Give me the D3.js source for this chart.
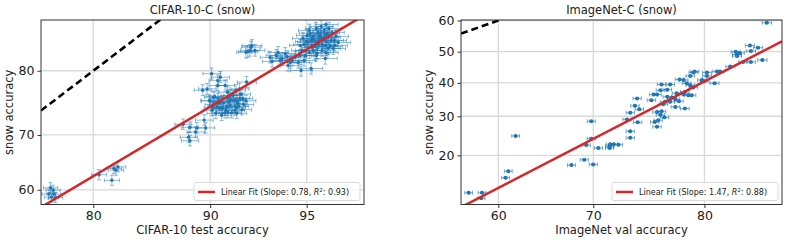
<!DOCTYPE html>
<html>
<head>
<meta charset="utf-8">
<script src="https://cdn.jsdelivr.net/npm/d3@7"></script>
<style>
  body { margin: 0; background: #fff; }
  text { font-family: "DejaVu Sans", sans-serif; fill: #222; }
</style>
</head>
<body>
<div id="vis"></div>
<script>
// ---- data (accuracies in %) ----
var cifarTicksX = [80, 90, 95];
var cifarTicksY = [60, 70, 80];
var imagenetTicksX = [60, 70, 80];
var imagenetTicksY = [20, 30, 40, 50, 60];

// [test accuracy, snow accuracy]
var cifarPoints = [
  [75.2,60.4],[75.0,59.2],[75.6,59.2],[75.8,58.5],[75.3,58.6],[75.5,59.9],
  [80.6,62.85],[81.9,61.8],[82.1,64.0],[82.5,64.3],[82.3,63.7],
  [88.1,71.8],[88.6,71.3],[89.1,71.2],[89.7,71.2],[89.6,72.5],[88.5,69.6],[88.6,69.0],[89.0,70.5],
  [90.1,79.6],[90.5,78.6],[90.65,79.1],[90.5,77.9],[89.5,77.2],[89.8,77.4],[89.95,75.6],[90.2,76.15],
  [90.95,77.9],[91.1,76.9],[91.6,77.2],[92.2,78.4],[91.8,77.4],
  [90.0,75.6],[90.25,75.0],[90.5,75.95],[90.62,74.4],[90.86,75.3],[91.0,74.1],[91.13,76.1],[91.25,74.9],
  [91.36,73.7],[91.48,75.6],[91.6,74.55],[91.7,75.2],[91.83,75.95],[91.94,74.2],[92.05,75.0],[90.12,74.1],
  [90.37,73.6],[90.74,73.3],[91.19,75.5],[91.42,76.4],[91.65,73.6],[91.88,76.6],[90.56,75.2],[91.06,74.7],
  [91.3,75.8],[91.54,74.1],[91.77,74.7],[90.19,74.55],[90.95,73.7],[92.17,75.6],
  [90.31,76.26],[90.8,74.39],[91.25,76.41],[91.6,75.64],[90.68,75.49],[92.0,75.95],[90.43,74.7],[91.13,73.74],
  [92.38,82.7],[92.49,83.3],[92.27,82.55],[92.65,82.7],[92.17,82.45],[92.44,83.1],
  [93.41,81.8],[93.7,82.05],[93.97,81.66],[94.2,81.9],[94.41,81.4],[94.33,81.13],[93.88,81.4],[94.11,82.3],
  [94.54,81.8],[94.66,81.13],[93.51,81.27],[93.79,82.43],[94.78,80.04],[95.17,80.32],[95.68,81.66],[94.74,82.05],
  [94.24,80.73],[94.9,81.4],
  [94.74,83.32],[94.86,84.17],[94.98,82.69],[95.06,83.68],[95.13,84.76],[95.21,83.07],[95.28,84.05],[95.36,85.33],
  [95.43,83.43],[95.5,84.52],[95.57,82.69],[95.64,85.11],[95.71,83.8],[95.78,84.29],[95.85,83.19],[95.91,84.88],
  [95.98,83.93],[96.04,84.41],[94.94,82.05],[95.1,82.43],[95.25,84.41],[95.39,82.3],[95.54,85.56],[95.68,83.32],
  [95.81,85.33],[95.95,82.94],[95.32,83.19],[95.47,83.93],[95.61,84.17],[95.75,84.76],[95.17,83.93],[95.02,84.52],
  [96.11,83.68],[94.82,82.69],[95.71,82.43],
  [94.9,83.43],[95.1,85.11],[95.25,82.69],[95.39,83.68],[95.54,84.29],[95.68,84.64],[95.88,83.93],[96.01,83.32],
  [95.43,84.88],[95.57,83.43],[95.21,84.17],[95.78,82.94],[94.98,83.8],[95.71,85.78],[95.36,82.05]
];

// [val accuracy, snow accuracy]
var imagenetPoints = [
  [84.6,59.3],[83.43,52.0],[84.0,51.3],[82.4,50.0],[83.5,50.2],[82.5,49.1],[82.7,49.6],[82.5,48.6],
  [84.3,47.3],[83.5,46.7],[82.95,46.7],[82.0,45.2],[81.0,43.6],[81.2,43.6],[80.2,43.3],[80.2,42.2],
  [79.2,43.6],[79.1,43.3],[78.85,42.2],[79.8,40.9],[80.0,40.5],[80.8,39.9],[78.3,40.9],[78.55,39.9],
  [77.95,41.1],[78.85,39.3],[79.1,38.6],[78.4,37.2],[78.95,36.2],[78.7,36.2],[78.3,36.4],[77.7,36.8],
  [77.15,39.5],[76.4,39.5],[76.9,37.9],[76.3,37.7],[76.9,35.7],[77.3,35.5],[77.6,35.0],[77.9,34.4],
  [77.15,34.2],[76.7,34.2],[76.55,33.5],[77.6,32.7],[78.4,32.2],[75.7,36.4],[76.0,36.4],[75.5,34.7],
  [74.2,35.2],[74.0,33.0],[74.4,32.0],[73.56,31.0],[73.25,29.1],[74.25,28.3],[76.0,31.2],[76.4,31.4],
  [76.3,30.4],[76.65,29.7],[76.1,28.9],[75.8,28.4],[76.0,27.1],[73.56,25.9],[73.56,24.2],[69.8,28.6],
  [69.8,24.0],[69.3,22.4],[70.5,21.7],[71.6,22.1],[71.66,22.6],[72.0,22.6],[72.45,22.5],[71.6,21.7],
  [67.8,17.85],[69.1,19.0],[70.0,18.0],[61.9,24.7],[61.1,16.6],[60.8,15.3],[56.7,12.6],[58.2,12.6],
  [58.1,11.7]
];

// linear fits in probit space: probit(y) = intercept + slope * probit(x)
var cifarFit = { slope: 0.78, intercept: -0.336, r2: 0.93 };
var imagenetFit = { slope: 1.47, intercept: -1.479, r2: 0.88 };

// test set sizes, used for the 95% error bars
var cifarN = { x: 10000, y: 10000 };
var imagenetN = { x: 50000, y: 250000 };

////////// probit helper //////////
function probit(p) {
  var a = [-3.969683028665376e+01, 2.209460984245205e+02, -2.759285104469687e+02, 1.383577518672690e+02, -3.066479806614716e+01, 2.506628277459239e+00];
  var b = [-5.447609879822406e+01, 1.615858368580409e+02, -1.556989798598866e+02, 6.680131188771972e+01, -1.328068155288572e+01];
  var c = [-7.784894002430293e-03, -3.223964580411365e-01, -2.400758277161838e+00, -2.549732539343734e+00, 4.374664141464968e+00, 2.938163982698783e+00];
  var d = [7.784695709041462e-03, 3.224671290700398e-01, 2.445134137142996e+00, 3.754408661907416e+00];
  var q, r;
  if (p < 0.02425) {
    q = Math.sqrt(-2 * Math.log(p));
    return (((((c[0]*q+c[1])*q+c[2])*q+c[3])*q+c[4])*q+c[5]) / ((((d[0]*q+d[1])*q+d[2])*q+d[3])*q+1);
  }
  if (p > 1 - 0.02425) {
    q = Math.sqrt(-2 * Math.log(1 - p));
    return -(((((c[0]*q+c[1])*q+c[2])*q+c[3])*q+c[4])*q+c[5]) / ((((d[0]*q+d[1])*q+d[2])*q+d[3])*q+1);
  }
  q = p - 0.5; r = q * q;
  return (((((a[0]*r+a[1])*r+a[2])*r+a[3])*r+a[4])*r+a[5])*q / (((((b[0]*r+b[1])*r+b[2])*r+b[3])*r+b[4])*r+1);
}
function pr(v) { return probit(v / 100); }
function halfCI(v, n) { var p = v / 100; return 100 * 1.96 * Math.sqrt(p * (1 - p) / n); }

var svg = d3.select("#vis").append("svg")
  .attr("width", 789).attr("height", 242);

function drawPanel(cfg) {
  var x = d3.scaleLinear().domain(cfg.xDomain.map(pr)).range([cfg.left, cfg.right]);
  var y = d3.scaleLinear().domain(cfg.yDomain.map(pr)).range([cfg.bottom, cfg.top]);
  var g = svg.append("g");

  var clipId = "clip-" + cfg.id;
  g.append("clipPath").attr("id", clipId).append("rect")
    .attr("x", cfg.left).attr("y", cfg.top)
    .attr("width", cfg.right - cfg.left).attr("height", cfg.bottom - cfg.top);

  // grid
  g.selectAll(".gx").data(cfg.ticksX).enter().append("line")
    .attr("x1", function(d) { return x(pr(d)); }).attr("x2", function(d) { return x(pr(d)); })
    .attr("y1", cfg.top).attr("y2", cfg.bottom)
    .attr("stroke", "#d9d9d9").attr("stroke-width", 1.3);
  g.selectAll(".gy").data(cfg.ticksY).enter().append("line")
    .attr("y1", function(d) { return y(pr(d)); }).attr("y2", function(d) { return y(pr(d)); })
    .attr("x1", cfg.left).attr("x2", cfg.right)
    .attr("stroke", "#d9d9d9").attr("stroke-width", 1.3);

  var plot = g.append("g").attr("clip-path", "url(#" + clipId + ")");

  // y = x reference
  var xd = x.domain();
  plot.append("line")
    .attr("x1", x(xd[0])).attr("y1", y(xd[0]))
    .attr("x2", x(xd[1])).attr("y2", y(xd[1]))
    .attr("stroke", "#000").attr("stroke-width", 2.6).attr("stroke-dasharray", "7,4");

  // error bars
  var cap = 2;
  var eb = plot.append("g").attr("stroke", "#1f77b4").attr("stroke-opacity", cfg.barOpacity).attr("stroke-width", 1);
  cfg.points.forEach(function(d) {
    var ex = halfCI(d[0], cfg.n.x), ey = halfCI(d[1], cfg.n.y);
    var x0 = x(pr(d[0] - ex)), x1 = x(pr(d[0] + ex)), cx = x(pr(d[0]));
    var y0 = y(pr(d[1] - ey)), y1 = y(pr(d[1] + ey)), cy = y(pr(d[1]));
    var path = d3.path();
    path.moveTo(x0, cy); path.lineTo(x1, cy);
    path.moveTo(x0, cy - cap); path.lineTo(x0, cy + cap);
    path.moveTo(x1, cy - cap); path.lineTo(x1, cy + cap);
    path.moveTo(cx, y0); path.lineTo(cx, y1);
    path.moveTo(cx - cap, y0); path.lineTo(cx + cap, y0);
    path.moveTo(cx - cap, y1); path.lineTo(cx + cap, y1);
    eb.append("path").attr("d", path.toString()).attr("fill", "none");
  });

  plot.selectAll(".pt").data(cfg.points).enter().append("circle")
    .attr("cx", function(d) { return x(pr(d[0])); })
    .attr("cy", function(d) { return y(pr(d[1])); })
    .attr("r", cfg.r)
    .attr("fill", "#1f77b4");

  // linear fit
  var fit = cfg.fit;
  plot.append("line")
    .attr("x1", x(xd[0])).attr("y1", y(fit.intercept + fit.slope * xd[0]))
    .attr("x2", x(xd[1])).attr("y2", y(fit.intercept + fit.slope * xd[1]))
    .attr("stroke", "#d62728").attr("stroke-width", 2.5);

  // axes
  var ax = g.append("g").attr("transform", "translate(0," + cfg.bottom + ")")
    .call(d3.axisBottom(x).tickValues(cfg.ticksX.map(pr)).tickFormat(function(d, i) { return cfg.ticksX[i]; }).tickSizeOuter(0).tickSize(3.5).tickPadding(3));
  var ay = g.append("g").attr("transform", "translate(" + cfg.left + ",0)")
    .call(d3.axisLeft(y).tickValues(cfg.ticksY.map(pr)).tickFormat(function(d, i) { return cfg.ticksY[i]; }).tickSizeOuter(0).tickSize(3.5).tickPadding(3));
  [ax, ay].forEach(function(a) {
    a.select(".domain").remove();
    a.selectAll("line").attr("stroke", "#333");
    a.selectAll("text").attr("font-size", 12.5).attr("font-family", "DejaVu Sans").attr("fill", "#222");
  });

  g.append("rect")
    .attr("x", cfg.left).attr("y", cfg.top)
    .attr("width", cfg.right - cfg.left).attr("height", cfg.bottom - cfg.top)
    .attr("fill", "none").attr("stroke", "#333").attr("stroke-width", 1);

  // titles
  g.append("text").attr("x", (cfg.left + cfg.right) / 2).attr("y", 14)
    .attr("text-anchor", "middle").attr("font-size", 11.5).text(cfg.title);
  g.append("text").attr("x", (cfg.left + cfg.right) / 2).attr("y", 234)
    .attr("text-anchor", "middle").attr("font-size", 11.5).text(cfg.xLabel);
  g.append("text")
    .attr("transform", "translate(" + cfg.yLabelX + "," + ((cfg.top + cfg.bottom) / 2) + ") rotate(-90)")
    .attr("text-anchor", "middle").attr("font-size", 11.5).text("snow accuracy");

  // legend
  var lg = g.append("g").attr("transform", "translate(" + (cfg.right - 170) + "," + (cfg.bottom - 22) + ")");
  lg.append("rect").attr("width", 166).attr("height", 18).attr("rx", 2)
    .attr("fill", "#fff").attr("fill-opacity", 0.8).attr("stroke", "#d0d0d0").attr("stroke-width", 0.8);
  lg.append("line").attr("x1", 4).attr("x2", 21).attr("y1", 9.5).attr("y2", 9.5)
    .attr("stroke", "#d62728").attr("stroke-width", 2.5);
  var t = lg.append("text").attr("x", 27).attr("y", 12.5).attr("font-size", 8).attr("fill", "#333");
  t.append("tspan").text("Linear Fit (Slope: " + fit.slope.toFixed(2) + ", ");
  t.append("tspan").attr("font-style", "italic").text("R");
  t.append("tspan").attr("dy", -3).attr("font-size", 5.5).text("2");
  t.append("tspan").attr("dy", 3).text(": " + fit.r2.toFixed(2) + ")");
}

drawPanel({
  id: "cifar", title: "CIFAR-10-C (snow)", xLabel: "CIFAR-10 test accuracy",
  left: 41, right: 364, top: 20, bottom: 204.5, yLabelX: 13,
  xDomain: [74.05, 96.86], yDomain: [57.17, 86.27],
  ticksX: cifarTicksX, ticksY: cifarTicksY,
  points: cifarPoints, fit: cifarFit, n: cifarN, r: 1.7, barOpacity: 0.5
});

drawPanel({
  id: "imagenet", title: "ImageNet-C (snow)", xLabel: "ImageNet val accuracy",
  left: 461, right: 782, top: 20, bottom: 204.5, yLabelX: 433,
  xDomain: [55.84, 85.61], yDomain: [10.73, 60.16],
  ticksX: imagenetTicksX, ticksY: imagenetTicksY,
  points: imagenetPoints, fit: imagenetFit, n: imagenetN, r: 2, barOpacity: 0.6
});
</script>
</body>
</html>
